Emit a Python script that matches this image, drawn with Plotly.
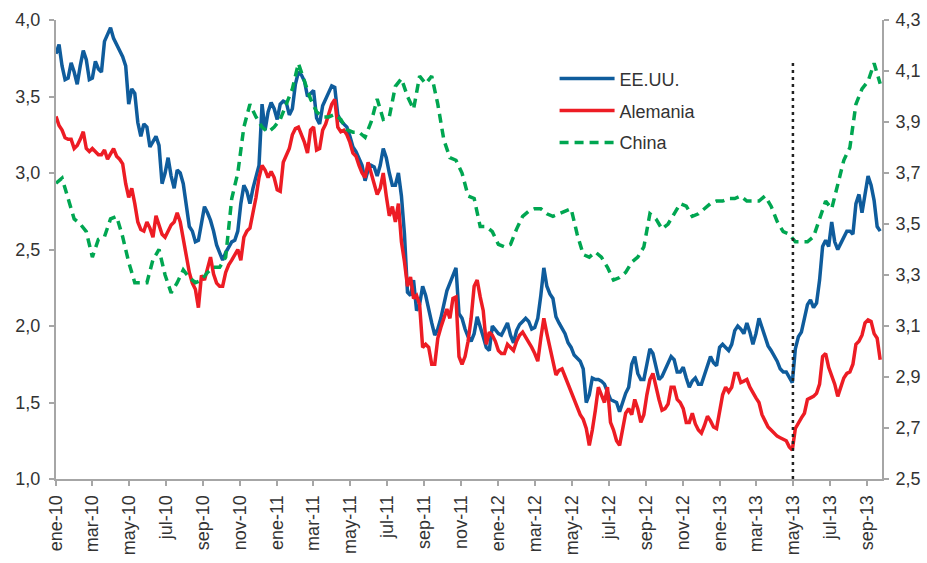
import pandas as pd
import plotly.graph_objects as go

# EE.UU. and Alemania sampled every 5 days, China every 10 days, from 1 Jan 2010
start_date = "2010-01-01"

eeuu = [3.78, 3.84, 3.70, 3.61, 3.62, 3.72, 3.66, 3.58, 3.70, 3.80,
        3.74, 3.61, 3.62, 3.73, 3.68, 3.66, 3.86, 3.90, 3.95, 3.88,
        3.84, 3.80, 3.76, 3.70, 3.45, 3.55, 3.52, 3.33, 3.24, 3.32,
        3.30, 3.17, 3.20, 3.24, 3.18, 2.93, 3.00, 3.10, 2.98, 2.90,
        3.02, 3.00, 2.93, 2.80, 2.65, 2.62, 2.55, 2.56, 2.68, 2.78,
        2.74, 2.69, 2.62, 2.53, 2.48, 2.43, 2.48, 2.52, 2.55, 2.56,
        2.62, 2.80, 2.92, 2.88, 2.80, 2.90, 2.98, 3.05, 3.45, 3.28,
        3.40, 3.46, 3.42, 3.35, 3.45, 3.47, 3.46, 3.38, 3.42, 3.58,
        3.66, 3.64, 3.60, 3.50, 3.52, 3.54, 3.36, 3.32, 3.44, 3.48,
        3.52, 3.57, 3.56, 3.38, 3.34, 3.32, 3.30, 3.24, 3.17, 3.14,
        3.10, 3.05, 2.95, 3.02, 3.05, 3.04, 2.98, 3.05, 3.16, 3.10,
        3.00, 2.92, 2.92, 3.00, 2.85, 2.60, 2.22, 2.20, 2.30, 2.10,
        2.14, 2.26, 2.20, 2.10, 2.02, 1.94, 1.98, 2.05, 2.14, 2.23,
        2.28, 2.33, 2.38, 2.08, 2.05, 1.98, 1.93, 1.90, 1.95, 2.06,
        2.00, 1.93, 1.86, 1.84, 2.00, 1.97, 1.95, 1.94, 1.98, 2.02,
        1.94, 1.89, 1.97, 2.01, 2.03, 2.05, 2.03, 1.98, 1.99, 2.05,
        2.20, 2.38, 2.26, 2.21, 2.18, 2.06, 2.02, 1.98, 1.95, 1.89,
        1.86, 1.81, 1.79, 1.77, 1.72, 1.50, 1.55, 1.66, 1.65, 1.65,
        1.64, 1.62, 1.57, 1.52, 1.51, 1.50, 1.44, 1.50, 1.56, 1.60,
        1.75, 1.80, 1.69, 1.65, 1.65, 1.75, 1.85, 1.82, 1.74, 1.65,
        1.67, 1.71, 1.75, 1.80, 1.78, 1.70, 1.70, 1.73, 1.66, 1.60,
        1.64, 1.66, 1.62, 1.62, 1.68, 1.75, 1.80, 1.76, 1.74, 1.86,
        1.88, 1.86, 1.84, 1.88, 1.97, 2.00, 1.98, 1.95, 2.02, 1.96,
        1.88, 1.95, 2.05, 1.99, 1.93, 1.87, 1.84, 1.81, 1.77, 1.72,
        1.70, 1.70, 1.67, 1.63, 1.85, 1.93, 1.96, 2.05, 2.14, 2.17,
        2.12, 2.15, 2.30, 2.52, 2.56, 2.52, 2.68, 2.55, 2.50, 2.54,
        2.58, 2.62, 2.62, 2.60, 2.80, 2.86, 2.74, 2.85, 2.98, 2.92,
        2.82, 2.65, 2.62]

alemania = [3.37, 3.31, 3.28, 3.23, 3.22, 3.22, 3.16, 3.18, 3.22, 3.27,
            3.16, 3.14, 3.16, 3.14, 3.12, 3.12, 3.15, 3.09, 3.12, 3.16,
            3.11, 3.09, 3.06, 2.93, 2.84, 2.90, 2.80, 2.68, 2.63, 2.62,
            2.68, 2.64, 2.58, 2.72, 2.66, 2.60, 2.58, 2.62, 2.66, 2.68,
            2.74, 2.68, 2.57, 2.46, 2.35, 2.28, 2.24, 2.12, 2.33, 2.30,
            2.38, 2.45, 2.34, 2.28, 2.26, 2.26, 2.35, 2.40, 2.43, 2.47,
            2.50, 2.43, 2.58, 2.62, 2.64, 2.74, 2.84, 2.97, 3.05, 3.02,
            2.97, 3.01, 2.97, 2.89, 2.88, 3.07, 3.12, 3.16, 3.25, 3.29,
            3.30, 3.25, 3.20, 3.13, 3.28, 3.30, 3.15, 3.16, 3.28, 3.32,
            3.38, 3.45, 3.48, 3.30, 3.27, 3.28, 3.25, 3.20, 3.13, 3.11,
            3.05, 3.00, 2.97, 3.07, 3.00, 2.93, 2.86, 2.90, 3.00, 2.85,
            2.72, 2.78, 2.68, 2.80, 2.55, 2.42, 2.26, 2.32, 2.18, 2.20,
            2.14, 1.86, 1.88, 1.86, 1.75, 1.75, 1.92, 1.99, 2.05, 2.11,
            2.05, 2.18, 2.19, 1.80, 1.75, 1.80, 1.90, 2.05, 2.26, 2.30,
            2.19, 2.10, 1.88, 1.96, 1.94, 1.90, 1.84, 1.82, 1.82, 1.88,
            1.86, 1.84, 1.90, 1.94, 1.96, 1.93, 1.89, 1.86, 1.82, 1.77,
            1.92, 2.05, 1.95, 1.86, 1.76, 1.68, 1.71, 1.72, 1.67, 1.62,
            1.57, 1.52, 1.47, 1.42, 1.39, 1.33, 1.22, 1.32, 1.45, 1.60,
            1.55, 1.50, 1.60, 1.37, 1.32, 1.25, 1.22, 1.33, 1.43, 1.46,
            1.42, 1.52, 1.46, 1.37, 1.42, 1.55, 1.65, 1.69, 1.60, 1.52,
            1.45, 1.46, 1.49, 1.60, 1.60, 1.52, 1.50, 1.46, 1.37, 1.37,
            1.43, 1.36, 1.32, 1.30, 1.35, 1.41, 1.38, 1.34, 1.33, 1.45,
            1.55, 1.60, 1.57, 1.60, 1.69, 1.69, 1.63, 1.64, 1.65, 1.60,
            1.56, 1.53, 1.50, 1.42, 1.38, 1.34, 1.32, 1.30, 1.28, 1.27,
            1.26, 1.25, 1.21, 1.19, 1.33, 1.37, 1.40, 1.43, 1.52, 1.53,
            1.54, 1.56, 1.62, 1.80, 1.82, 1.73, 1.68, 1.62, 1.54, 1.60,
            1.66, 1.69, 1.70, 1.75, 1.88, 1.90, 1.94, 2.02, 2.04, 2.03,
            1.95, 1.92, 1.78]

china = [3.66, 3.68, 3.60, 3.52, 3.50, 3.47, 3.37, 3.44, 3.45, 3.52,
         3.53, 3.45, 3.35, 3.27, 3.27, 3.27, 3.36, 3.40, 3.30, 3.23,
         3.27, 3.32, 3.29, 3.27, 3.28, 3.31, 3.33, 3.33, 3.37, 3.60,
         3.70, 3.88, 3.97, 3.92, 3.88, 3.86, 3.88, 3.91, 3.97, 4.03,
         4.13, 4.06, 3.99, 3.94, 3.92, 3.92, 3.93, 3.91, 3.87, 3.86,
         3.86, 3.84, 3.90, 3.99, 3.91, 3.92, 4.04, 4.07, 4.00, 3.95,
         4.08, 4.05, 4.08, 3.97, 3.83, 3.76, 3.75, 3.70, 3.61, 3.60,
         3.49, 3.49, 3.47, 3.42, 3.41, 3.42, 3.48, 3.53, 3.55, 3.56,
         3.56, 3.54, 3.53, 3.54, 3.55, 3.56, 3.46, 3.38, 3.37, 3.39,
         3.37, 3.33, 3.28, 3.29, 3.31, 3.35, 3.37, 3.41, 3.54, 3.52,
         3.48, 3.50, 3.54, 3.58, 3.57, 3.53, 3.54, 3.56, 3.58, 3.59,
         3.59, 3.60, 3.60, 3.61, 3.59, 3.59, 3.59, 3.61, 3.57, 3.51,
         3.47, 3.46, 3.43, 3.43, 3.43, 3.45, 3.52, 3.59, 3.56, 3.66,
         3.75, 3.80, 3.97, 4.03, 4.06, 4.13, 4.05]

tick_dates = ["2010-01-01", "2010-03-01", "2010-05-01", "2010-07-01", "2010-09-01",
              "2010-11-01", "2011-01-01", "2011-03-01", "2011-05-01", "2011-07-01",
              "2011-09-01", "2011-11-01", "2012-01-01", "2012-03-01", "2012-05-01",
              "2012-07-01", "2012-09-01", "2012-11-01", "2013-01-01", "2013-03-01",
              "2013-05-01", "2013-07-01", "2013-09-01"]
tick_labels = ["ene-10", "mar-10", "may-10", "jul-10", "sep-10", "nov-10",
               "ene-11", "mar-11", "may-11", "jul-11", "sep-11", "nov-11",
               "ene-12", "mar-12", "may-12", "jul-12", "sep-12", "nov-12",
               "ene-13", "mar-13", "may-13", "jul-13", "sep-13"]
left_ticks = [1.0, 1.5, 2.0, 2.5, 3.0, 3.5, 4.0]
right_ticks = [2.5, 2.7, 2.9, 3.1, 3.3, 3.5, 3.7, 3.9, 4.1, 4.3]
marker_date = "2013-05-01"
marker_range = [1.0, 3.72]

dates5 = pd.date_range(start_date, periods=len(eeuu), freq="5D")
dates10 = pd.date_range(start_date, periods=len(china), freq="10D")

FONT = "Liberation Sans, Arial, sans-serif"
TXT = "#333333"
AX = "#a6a6a6"

fig = go.Figure()
fig.add_trace(go.Scatter(x=dates5, y=eeuu, name="EE.UU.", mode="lines",
                         line=dict(color="#0f5c9c", width=3.5), legendgroup="a"))
fig.add_trace(go.Scatter(x=dates5, y=alemania, name="Alemania", mode="lines",
                         line=dict(color="#ed1c24", width=3.5), legendgroup="b"))
fig.add_trace(go.Scatter(x=dates10, y=china, name="China", mode="lines", yaxis="y2",
                         line=dict(color="#00a651", width=3.5, dash="9px,6px"),
                         legendgroup="c"))

fig.add_shape(type="line", xref="x", yref="y",
              x0=marker_date, x1=marker_date, y0=marker_range[0], y1=marker_range[1],
              line=dict(color="#222222", width=2.5, dash="3px,4px"))

axis_common = dict(showgrid=False, zeroline=False, showline=True, linecolor=AX,
                   linewidth=2, ticks="outside", ticklen=5, tickcolor=AX, tickwidth=2,
                   automargin=False, tickfont=dict(size=18, color=TXT, family=FONT))

fig.update_layout(
    width=927, height=563,
    margin=dict(l=56, r=45, t=20, b=84),
    paper_bgcolor="white", plot_bgcolor="white",
    separators=",.",
    font=dict(family=FONT, size=18, color=TXT),
    showlegend=True,
    hovermode=False,
    legend=dict(x=0.6036, y=0.912, xanchor="left", yanchor="top",
                bgcolor="rgba(0,0,0,0)", font=dict(size=18, color=TXT),
                tracegroupgap=5.5, itemwidth=55),
    xaxis=dict(type="date", range=["2010-01-01", "2013-09-25"],
               tickvals=tick_dates, ticktext=tick_labels, tickangle=-90,
               ticklabelstandoff=2, **axis_common),
    yaxis=dict(range=[1.0, 4.0], tickvals=left_ticks, tickformat=".1f",
               ticklabelstandoff=5, **axis_common),
    yaxis2=dict(range=[2.5, 4.3], tickvals=right_ticks, tickformat=".1f",
                overlaying="y", side="right", ticklabelstandoff=3, **axis_common),
)

fig.write_html("out.html",
               config={"displayModeBar": False, "staticPlot": True},
               post_script="document.body.style.margin='0px';"
                           "document.body.style.overflow='hidden';")
